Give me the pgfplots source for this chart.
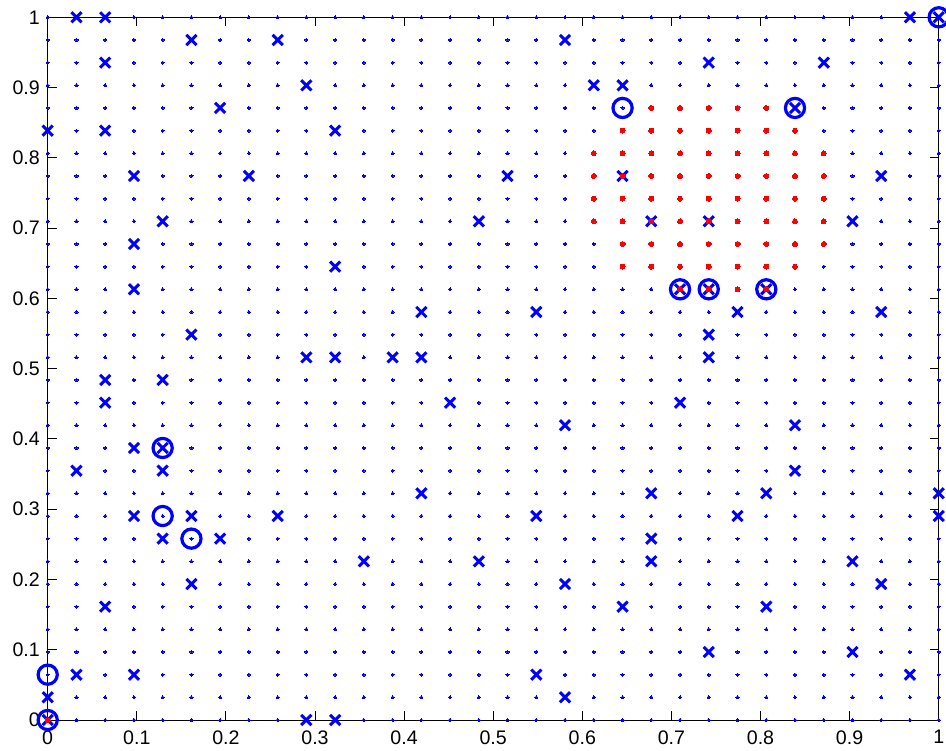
\documentclass[border=0pt]{standalone}
\usepackage{fontspec}
\setmainfont{Liberation Sans}
\usepackage{pgfplots}
\pgfplotsset{compat=1.18}
\usepackage{pgfplotstable}
\usetikzlibrary{calc}

% grid values (i/31)
\pgfplotstableread{
v i
0 0
0.0323 1
0.0645 2
0.0968 3
0.1290 4
0.1613 5
0.1935 6
0.2258 7
0.2581 8
0.2903 9
0.3226 10
0.3548 11
0.3871 12
0.4194 13
0.4516 14
0.4839 15
0.5161 16
0.5484 17
0.5806 18
0.6129 19
0.6452 20
0.6774 21
0.7097 22
0.7419 23
0.7742 24
0.8065 25
0.8387 26
0.8710 27
0.9032 28
0.9355 29
0.9677 30
1 31
}\gridx

% x markers
\pgfplotstableread{
x y
0 0
0 0.0323
0 0.8387
0.0323 0.0645
0.0323 0.3548
0.0323 1
0.0645 0.1613
0.0645 0.4516
0.0645 0.4839
0.0645 0.8387
0.0645 0.9355
0.0645 1
0.0968 0.0645
0.0968 0.2903
0.0968 0.3871
0.0968 0.6129
0.0968 0.6774
0.0968 0.7742
0.1290 0.2581
0.1290 0.3548
0.1290 0.3871
0.1290 0.4839
0.1290 0.7097
0.1613 0.1935
0.1613 0.2903
0.1613 0.5484
0.1613 0.9677
0.1935 0.2581
0.1935 0.8710
0.2258 0.7742
0.2581 0.2903
0.2581 0.9677
0.2903 0
0.2903 0.5161
0.2903 0.9032
0.3226 0
0.3226 0.5161
0.3226 0.6452
0.3226 0.8387
0.3548 0.2258
0.3871 0.5161
0.4194 0.3226
0.4194 0.5161
0.4194 0.5806
0.4516 0.4516
0.4839 0.2258
0.4839 0.7097
0.5161 0.7742
0.5484 0.0645
0.5484 0.2903
0.5484 0.5806
0.5806 0.0323
0.5806 0.1935
0.5806 0.4194
0.5806 0.9677
0.6129 0.9032
0.6452 0.1613
0.6452 0.7742
0.6452 0.9032
0.6774 0.2258
0.6774 0.2581
0.6774 0.3226
0.6774 0.7097
0.7097 0.4516
0.7097 0.6129
0.7419 0.0968
0.7419 0.5161
0.7419 0.5484
0.7419 0.6129
0.7419 0.7097
0.7419 0.9355
0.7742 0.2903
0.7742 0.5806
0.8065 0.1613
0.8065 0.3226
0.8065 0.6129
0.8387 0.3548
0.8387 0.4194
0.8387 0.8710
0.8710 0.9355
0.9032 0.0968
0.9032 0.2258
0.9032 0.7097
0.9355 0.1935
0.9355 0.5806
0.9355 0.7742
0.9677 0.0645
0.9677 1
1 0.2903
1 0.3226
1 1
}\xmarks

% circles
\pgfplotstableread{
x y
0 0
0 0.0645
0.1290 0.2903
0.1613 0.2581
0.1290 0.3871
0.6452 0.8710
0.7097 0.6129
0.7419 0.6129
0.8065 0.6129
0.8387 0.8710
1 1
}\circs

% red points
\pgfplotstableread{
x y
0 0
0.6129 0.7097
0.6129 0.7419
0.6129 0.7742
0.6129 0.8065
0.6452 0.6452
0.6452 0.6774
0.6452 0.7097
0.6452 0.7419
0.6452 0.7742
0.6452 0.8065
0.6452 0.8387
0.6774 0.6452
0.6774 0.6774
0.6774 0.7097
0.6774 0.7419
0.6774 0.7742
0.6774 0.8065
0.6774 0.8387
0.6774 0.8710
0.7097 0.6129
0.7097 0.6452
0.7097 0.6774
0.7097 0.7097
0.7097 0.7419
0.7097 0.7742
0.7097 0.8065
0.7097 0.8387
0.7097 0.8710
0.7419 0.6129
0.7419 0.6452
0.7419 0.6774
0.7419 0.7097
0.7419 0.7419
0.7419 0.7742
0.7419 0.8065
0.7419 0.8387
0.7419 0.8710
0.7742 0.6129
0.7742 0.6452
0.7742 0.6774
0.7742 0.7097
0.7742 0.7419
0.7742 0.7742
0.7742 0.8065
0.7742 0.8387
0.7742 0.8710
0.8065 0.6129
0.8065 0.6452
0.8065 0.6774
0.8065 0.7097
0.8065 0.7419
0.8065 0.7742
0.8065 0.8065
0.8065 0.8387
0.8065 0.8710
0.8387 0.6452
0.8387 0.6774
0.8387 0.7097
0.8387 0.7419
0.8387 0.7742
0.8387 0.8065
0.8387 0.8387
0.8710 0.6774
0.8710 0.7097
0.8710 0.7419
0.8710 0.7742
0.8710 0.8065
}\reds

\definecolor{mblue}{RGB}{0,0,255}
\definecolor{mred}{RGB}{255,0,0}

\begin{document}
\begin{tikzpicture}
\begin{axis}[
  name=ax,
  scale only axis,
  width=445.5pt, height=351.35pt,
  xmin=0, xmax=1, ymin=0, ymax=1,
  xtick={0,0.1,0.2,0.3,0.4,0.5,0.6,0.7,0.8,0.9,1},
  ytick={0,0.1,0.2,0.3,0.4,0.5,0.6,0.7,0.8,0.9,1},
  tick align=inside,
  major tick length=4.5pt,
  clip=false,
  axis line style={line width=0.5pt, black},
  every tick/.style={black, line width=0.5pt},
  tick label style={font=\fontsize{9.8}{11}\selectfont, /pgf/number format/assume math mode=true},
  xticklabel style={yshift=-1.7pt},
  yticklabel style={xshift=-0.4pt},
]
\pgfplotsinvokeforeach{0,0.0323,0.0645,0.0968,0.1290,0.1613,0.1935,0.2258,0.2581,0.2903,0.3226,0.3548,0.3871,0.4194,0.4516,0.4839,0.5161,0.5484,0.5806,0.6129,0.6452,0.6774,0.7097,0.7419,0.7742,0.8065,0.8387,0.8710,0.9032,0.9355,0.9677,1}{
  \addplot[mblue, only marks, mark=*, mark size=0.8pt, mark options={draw=mblue, fill=mblue, line width=0pt}] table[x=v, y expr=#1] {\gridx};
}
\addplot[mblue, only marks, mark=x, mark size=3.6pt, mark options={draw=mblue, line width=1.5pt}] table[x=x, y=y] {\xmarks};
\addplot[mblue, only marks, mark=o, mark size=4.8pt, mark options={draw=mblue, line width=1.6pt}] table[x=x, y=y] {\circs};
\addplot[mred, only marks, mark=*, mark size=1.25pt, mark options={draw=mred, fill=mred, line width=0pt}] table[x=x, y=y] {\reds};
\end{axis}
\pgfresetboundingbox
\path[use as bounding box] ($(ax.south west)+(-23.85pt,-15pt)$) rectangle ($(ax.north east)+(3.65pt,8.65pt)$);
\end{tikzpicture}
\end{document}
